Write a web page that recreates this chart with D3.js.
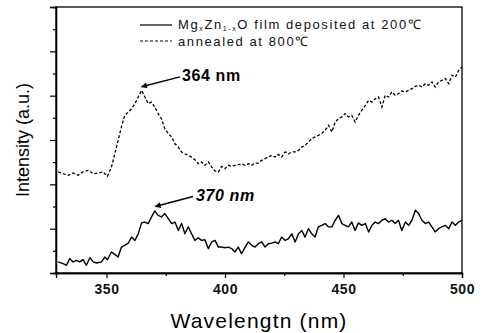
<!DOCTYPE html>
<html>
<head>
<meta charset="utf-8">
<script src="https://cdn.jsdelivr.net/npm/d3@7"></script>
<style>
  body { margin: 0; background: #fff; }
  svg { font-family: "Liberation Sans", Arial, sans-serif; }
</style>
</head>
<body>
<div id="chart"></div>
<script>
// ---- data ----
const asDepWl = [329.6,331.7,333.1,334.5,335.9,337.3,338.7,340.1,341.5,343.0,344.4,345.8,347.9,349.3,350.4,352.1,353.5,354.9,356.3,357.7,359.2,360.6,362.0,363.4,364.8,366.2,367.6,369.0,370.4,371.8,373.2,374.6,376.1,377.5,378.9,380.3,381.7,383.1,384.5,385.9,387.3,388.7,390.1,391.5,393.0,394.4,395.8,397.2,398.6,400.0,401.4,402.8,404.2,405.6,407.0,408.5,409.9,411.3,412.7,414.1,415.5,416.9,418.3,419.7,421.1,422.5,423.9,425.4,426.8,428.2,429.6,431.0,432.4,433.8,435.2,436.6,438.0,439.4,440.8,442.3,443.7,445.1,446.5,447.9,449.3,450.7,452.1,453.5,454.9,456.3,457.7,459.2,460.6,462.0,463.4,464.8,466.2,467.6,469.0,470.4,471.8,473.2,474.6,476.1,477.5,478.9,480.3,481.7,483.1,484.5,485.9,487.3,488.7,490.1,491.5,493.0,494.4,495.8,497.2,498.6,500.0];
const asDepI = [0.50,0.42,0.35,0.65,0.50,0.57,0.50,0.60,0.35,0.69,0.50,0.45,0.50,0.72,0.60,0.95,0.84,0.72,1.17,1.25,1.35,1.62,1.47,1.77,2.26,2.30,2.23,2.53,2.80,2.60,2.53,2.68,2.45,2.23,2.30,1.92,2.23,1.77,2.08,1.77,1.47,1.59,1.47,1.50,1.10,1.40,1.47,1.17,1.17,1.14,1.17,1.10,0.95,1.17,0.87,1.17,1.40,1.25,1.17,1.32,1.40,1.17,1.32,1.35,1.40,1.32,1.62,1.47,1.55,1.77,1.40,1.77,1.92,1.62,2.00,1.77,1.62,2.08,2.15,2.23,2.08,2.08,2.38,2.60,2.23,2.15,2.08,2.30,1.92,2.26,2.15,2.23,1.85,2.15,2.30,2.23,2.38,2.45,2.30,2.38,2.23,2.38,1.92,2.30,2.15,2.38,2.83,2.68,2.38,2.23,2.30,2.08,1.85,2.00,2.08,2.15,2.00,2.30,2.15,2.30,2.38];

const annealWl = [329.6,331.7,333.8,335.9,338.0,340.1,342.3,344.4,346.5,348.6,350.4,352.1,353.5,354.9,356.3,357.7,359.2,360.6,362.0,363.4,364.8,366.2,367.6,369.0,370.4,371.8,373.2,374.6,376.1,377.5,378.9,380.3,381.7,383.1,384.5,385.9,387.3,388.7,390.1,391.5,393.0,394.4,395.8,397.2,398.6,400.0,401.4,402.8,404.2,405.6,407.0,408.5,409.9,411.3,412.7,414.1,415.5,416.9,418.3,419.7,421.1,422.5,423.9,425.4,426.8,428.2,429.6,431.0,432.4,433.8,435.2,436.6,438.0,439.4,440.8,442.3,443.7,445.1,446.5,447.9,449.3,450.7,452.1,453.5,454.9,456.3,457.7,459.2,460.6,462.0,463.4,464.8,466.2,467.6,469.0,470.4,471.8,473.2,474.6,476.1,477.5,478.9,480.3,481.7,483.1,484.5,485.9,487.3,488.7,490.1,491.5,493.0,494.4,495.8,497.2,498.6,500.0];
const annealI = [4.56,4.48,4.41,4.51,4.41,4.56,4.63,4.48,4.51,4.56,4.36,4.78,5.38,5.98,6.59,7.11,7.26,7.41,7.64,7.94,8.24,7.94,7.64,7.71,7.49,7.19,6.96,6.51,6.29,6.14,5.83,5.68,5.46,5.38,5.31,5.23,5.11,4.93,5.01,4.86,5.01,4.78,4.60,4.56,4.81,4.71,4.86,4.81,4.86,4.89,4.93,4.86,4.93,4.86,4.96,4.96,5.08,5.16,5.23,5.31,5.23,5.35,5.23,5.46,5.38,5.46,5.46,5.53,5.68,5.76,5.91,6.06,6.14,6.21,6.29,6.44,6.66,6.36,6.81,6.96,7.04,7.19,7.04,7.11,6.81,7.11,7.34,7.56,7.79,7.71,7.86,7.94,7.49,8.02,7.94,8.17,8.02,8.09,8.21,8.17,8.24,8.32,8.42,8.47,8.39,8.54,8.47,8.62,8.39,8.62,8.69,8.77,8.54,8.92,8.84,9.14,9.29];

const xTicks = [350, 400, 450, 500];
const xMinorTicks = [375, 425, 475];
const yTicks = [0, 2, 4, 6, 8, 10, 12];
const yMinorTicks = [1, 3, 5, 7, 9, 11];

const legendLabels = ["film deposited at 200℃", "annealed at 800℃"];
// peak annotations in data units: text position, arrow start, arrow tip
const peakNotes = [
  { label: "364 nm", tx: 381.9, ty: 8.65, x1: 381.0, y1: 8.85, x2: 364.8, y2: 8.40, italic: false },
  { label: "370 nm", tx: 387.8, ty: 3.25, x1: 386.5, y1: 3.45, x2: 370.6, y2: 3.00, italic: true }
];

/* ---------- setup ---------- */
const W = 482, H = 333;
const margin = { top: 7, right: 20, bottom: 60, left: 56 };
const width = W - margin.left - margin.right;
const height = H - margin.top - margin.bottom;

const svg = d3.select("#chart").append("svg")
  .attr("width", W).attr("height", H);

svg.append("defs").append("marker")
  .attr("id", "arrow")
  .attr("viewBox", "0 0 10 10")
  .attr("refX", 9).attr("refY", 5)
  .attr("markerWidth", 9).attr("markerHeight", 6)
  .attr("markerUnits", "userSpaceOnUse")
  .attr("orient", "auto")
  .append("path").attr("d", "M0,0 L10,5 L0,10 Z").attr("fill", "#000");

const g = svg.append("g")
  .attr("transform", `translate(${margin.left},${margin.top})`);

const x = d3.scaleLinear().domain([328.7, 500]).range([0, width]);
const y = d3.scaleLinear().domain([0, 12]).range([height, 0]);

// frame
g.append("rect")
  .attr("width", width).attr("height", height)
  .attr("fill", "none").attr("stroke", "#000").attr("stroke-width", 1.3);

// x axis
const xAxisG = g.append("g").attr("transform", `translate(0,${height})`)
  .call(d3.axisBottom(x).tickValues(xTicks).tickSize(5).tickPadding(6).tickFormat(d3.format("d")));
g.append("g").attr("transform", `translate(0,${height})`)
  .call(d3.axisBottom(x).tickValues(xMinorTicks).tickSize(3).tickFormat(""));

// y axis (no labels)
g.append("g")
  .call(d3.axisLeft(y).tickValues(yTicks).tickSize(6).tickFormat(""));
g.append("g")
  .call(d3.axisLeft(y).tickValues(yMinorTicks).tickSize(3).tickFormat(""));

g.selectAll(".domain").attr("stroke-width", 1.3);
g.selectAll(".tick line").attr("stroke-width", 1.2);
xAxisG.selectAll("text")
  .attr("font-size", 14).attr("font-weight", "bold").attr("fill", "#111")
  .attr("letter-spacing", 0.5);

// axis titles
svg.append("text")
  .attr("x", margin.left + width / 2).attr("y", 328)
  .attr("text-anchor", "middle")
  .attr("font-size", 21).attr("letter-spacing", 1.2)
  .text("Wavelengtn (nm)");

svg.append("text")
  .attr("transform", `translate(29,${margin.top + height / 2}) rotate(-90)`)
  .attr("text-anchor", "middle")
  .attr("font-size", 18)
  .text("Intensity (a.u.)");

/* ---------- lines ---------- */
const line = d3.line()
  .x(d => x(d[0]))
  .y(d => y(d[1]));

g.append("path")
  .datum(asDepWl.map((w, i) => [w, asDepI[i]]))
  .attr("fill", "none").attr("stroke", "#000").attr("stroke-width", 1.4)
  .attr("stroke-linejoin", "round")
  .attr("d", line);

g.append("path")
  .datum(annealWl.map((w, i) => [w, annealI[i]]))
  .attr("fill", "none").attr("stroke", "#000").attr("stroke-width", 1.3)
  .attr("stroke-dasharray", "3,2")
  .attr("d", line);

/* ---------- legend ---------- */
const leg = svg.append("g").attr("font-size", 13).attr("fill", "#111").attr("letter-spacing", 1.6);
leg.append("line").attr("x1", 140).attr("x2", 172).attr("y1", 25).attr("y2", 25)
  .attr("stroke", "#000").attr("stroke-width", 1.2);
leg.append("line").attr("x1", 140).attr("x2", 172).attr("y1", 41).attr("y2", 41)
  .attr("stroke", "#000").attr("stroke-width", 1.2).attr("stroke-dasharray", "3,2");

const t1 = leg.append("text").attr("x", 178).attr("y", 29);
t1.append("tspan").text("Mg");
t1.append("tspan").attr("font-size", 7).attr("dy", 2).text("x");
t1.append("tspan").attr("dy", -2).text("Zn");
t1.append("tspan").attr("font-size", 7).attr("dy", 2).text("1-x");
t1.append("tspan").attr("dy", -2).text("O " + legendLabels[0]);

leg.append("text").attr("x", 178).attr("y", 46).text(legendLabels[1]);

/* ---------- peak annotations ---------- */
const notes = g.selectAll(".note").data(peakNotes).enter().append("g").attr("class", "note");
notes.append("line")
  .attr("x1", d => x(d.x1)).attr("y1", d => y(d.y1))
  .attr("x2", d => x(d.x2)).attr("y2", d => y(d.y2))
  .attr("stroke", "#000").attr("stroke-width", 1.4)
  .attr("marker-end", "url(#arrow)");
notes.append("text")
  .attr("x", d => x(d.tx)).attr("y", d => y(d.ty))
  .attr("font-size", 16).attr("font-weight", "bold").attr("letter-spacing", 0.6)
  .attr("font-style", d => d.italic ? "italic" : "normal")
  .text(d => d.label);
</script>
</body>
</html>
